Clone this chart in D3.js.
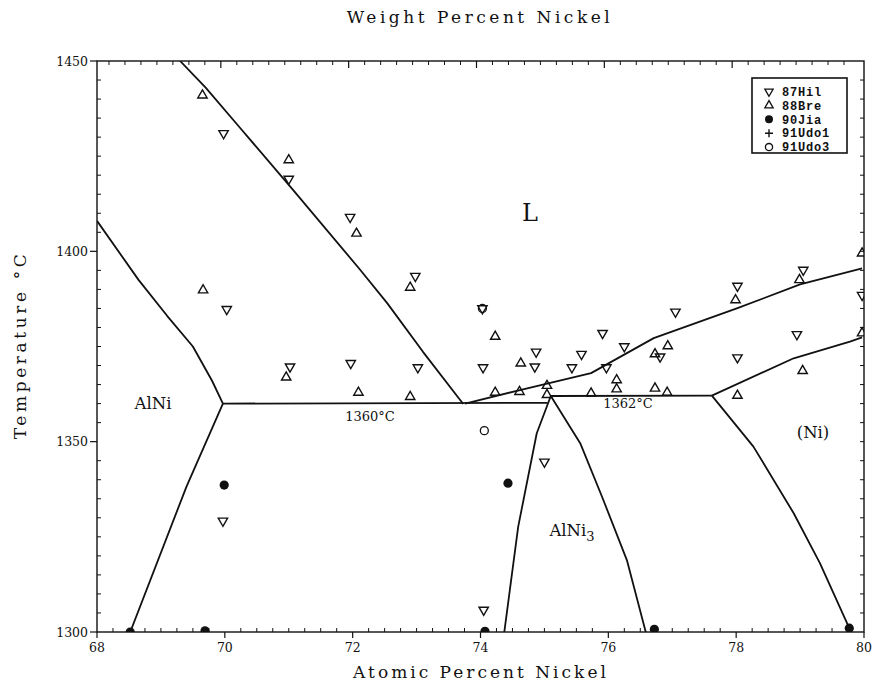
<!DOCTYPE html>
<html>
<head>
<meta charset="utf-8">
<script src="https://cdn.jsdelivr.net/npm/d3@7"></script>
<style>
  body { margin: 0; background: #fff; }
  svg text { font-family: "DejaVu Serif", "Liberation Serif", serif; fill: #111; }
</style>
</head>
<body>
<svg id="chart" width="880" height="683"></svg>
<script>
// ── Data (atomic % Ni, temperature °C) ──
const xTicks = [68, 70, 72, 74, 76, 78, 80];
const yTicks = [1300, 1350, 1400, 1450];

const hil87 = [[69.98,1431],[71.0,1419],[71.96,1409],[72.98,1393.5],[74.03,1385],[74.87,1373.6],
  [74.85,1369.7],[71.02,1369.7],[71.97,1370.6],[73.02,1369.5],[74.04,1369.5],[75.43,1369.5],
  [75.58,1373],[75.91,1378.5],[76.25,1375],[77.05,1384.1],[75.97,1369.5],[76.81,1372.3],
  [78.02,1390.9],[78.02,1372.1],[78.95,1378.2],[79.05,1395.1],[79.97,1388.5],[70.03,1384.8],
  [69.97,1329.2],[75.0,1344.7],[74.05,1305.8]];
const bre88 = [[69.65,1441],[71.0,1424],[72.06,1404.7],[72.9,1390.5],[74.23,1377.6],[74.63,1370.6],
  [70.96,1366.9],[72.09,1362.9],[72.9,1361.8],[74.23,1362.9],[74.61,1363.1],[75.04,1364.7],
  [75.04,1362.3],[76.13,1366.2],[76.13,1363.8],[75.73,1362.7],[76.73,1364],[76.92,1362.9],
  [76.73,1373],[76.93,1375.1],[77.99,1387.2],[79.04,1368.6],[78.02,1362.1],[78.99,1392.5],
  [79.97,1399.5],[79.97,1378.5],[69.66,1389.8]];
const jia90 = [[69.99,1338.6],[74.43,1339.1],[69.69,1300.3],[74.07,1300.2],[76.72,1300.7],[79.77,1301],[68.52,1300]];
const udo91a = [];
const udo91b = [[74.03,1385],[74.06,1352.9]];

// phase boundaries
const liquidusLeft = [[69.3,1450],[69.7,1443],[70.24,1432.4],[71.07,1416.1],[72.12,1395.1],[72.54,1386.4],[73.1,1373.6],[73.73,1359.9]];
const liquidusRight = [[73.76,1360],[74.6,1363.5],[75.73,1368],[76.71,1377.2],[78.01,1385],[79.0,1391.3],[79.97,1395.5]];
const alniLiquidus = [[68.0,1408],[68.65,1392.5],[69.1,1383],[69.5,1375],[69.8,1366],[69.97,1360]];
const alniSolvus = [[69.97,1360],[69.4,1338.2],[68.52,1300]];
const eutectic1360 = [[69.97,1360],[75.05,1360.2]];
const peritectic1362 = [[75.1,1362],[77.62,1362.1]];
const niSolidus = [[77.62,1362.1],[78.9,1371.9],[79.78,1376.3],[79.97,1377.4]];
const alni3Left = [[75.1,1362],[74.88,1352.2],[74.59,1327.7],[74.37,1299.7]];
const alni3Right = [[75.1,1362],[75.56,1349.6],[75.9,1335.6],[76.29,1318.9],[76.59,1299.7]];
const niSolvus = [[77.62,1362.1],[78.27,1348.7],[78.9,1331.2],[79.31,1318.1],[79.77,1301],[79.8,1299.5]];

const legendItems = ['87Hil', '88Bre', '90Jia', '91Udo1', '91Udo3'];

// ── Layout ──
const svg = d3.select('#chart');
const x = d3.scaleLinear().domain([68, 80]).range([97, 864]);
const y = d3.scaleLinear().domain([1300, 1450]).range([632, 61]);
const ink = '#111';

svg.append('defs').append('clipPath').attr('id', 'plot')
  .append('rect').attr('x', 97).attr('y', 61).attr('width', 767).attr('height', 571);

// frame
svg.append('rect')
  .attr('x', 97).attr('y', 61).attr('width', 767).attr('height', 571)
  .attr('fill', 'none').attr('stroke', ink).attr('stroke-width', 1.4);

// bottom axis: majors outward, minors inward
const xMinor = d3.range(68, 80.001, 0.25).filter(v => Math.abs(v % 2) > 0.01);
svg.append('g').selectAll('line').data(xMinor).join('line')
  .attr('x1', d => x(d)).attr('x2', d => x(d)).attr('y1', 632).attr('y2', 628)
  .attr('stroke', ink).attr('stroke-width', 1);
svg.append('g').selectAll('line').data(xTicks).join('line')
  .attr('x1', d => x(d)).attr('x2', d => x(d)).attr('y1', 632).attr('y2', 638)
  .attr('stroke', ink).attr('stroke-width', 1.2);
svg.append('g').selectAll('text').data(xTicks).join('text')
  .attr('x', d => x(d)).attr('y', 652).attr('text-anchor', 'middle')
  .attr('font-size', '12.5px').text(d => d);

// top axis (weight %): ticks only, pointing down
svg.append('g').selectAll('line').data(xMinor).join('line')
  .attr('x1', d => x(d) - 4).attr('x2', d => x(d) - 4).attr('y1', 61).attr('y2', 65)
  .attr('stroke', ink).attr('stroke-width', 1);
svg.append('g').selectAll('line').data(xTicks.slice(1, -1)).join('line')
  .attr('x1', d => x(d) - 4).attr('x2', d => x(d) - 4).attr('y1', 61).attr('y2', 68)
  .attr('stroke', ink).attr('stroke-width', 1.2);

// left axis
const yMinor = d3.range(1305, 1450, 5).filter(v => v % 50 !== 0);
svg.append('g').selectAll('line').data(yMinor).join('line')
  .attr('x1', 97).attr('x2', 101).attr('y1', d => y(d)).attr('y2', d => y(d))
  .attr('stroke', ink).attr('stroke-width', 1);
svg.append('g').selectAll('line').data(yTicks).join('line')
  .attr('x1', 90).attr('x2', 97).attr('y1', d => y(d)).attr('y2', d => y(d))
  .attr('stroke', ink).attr('stroke-width', 1.2);
svg.append('g').selectAll('text').data(yTicks).join('text')
  .attr('x', 88).attr('y', d => y(d) + 4.5).attr('text-anchor', 'end')
  .attr('font-size', '12.5px').text(d => d);

// right axis (ticks only, inward)
svg.append('g').selectAll('line').data(yMinor.concat([1350, 1400])).join('line')
  .attr('x1', 860).attr('x2', 864).attr('y1', d => y(d)).attr('y2', d => y(d))
  .attr('stroke', ink).attr('stroke-width', 1);

// axis titles
svg.append('text').attr('x', 480).attr('y', 23).attr('text-anchor', 'middle')
  .attr('font-size', '17px').attr('letter-spacing', '3.5px').text('Weight Percent Nickel');
svg.append('text').attr('x', 481).attr('y', 678).attr('text-anchor', 'middle')
  .attr('font-size', '17px').attr('letter-spacing', '3px').text('Atomic Percent Nickel');
svg.append('text').attr('transform', 'translate(26,345) rotate(-90)').attr('text-anchor', 'middle')
  .attr('font-size', '17px').attr('letter-spacing', '3.6px').text('Temperature °C');

// ── Phase boundaries ──
const line = d3.line().x(d => x(d[0])).y(d => y(d[1]));
const plot = svg.append('g').attr('clip-path', 'url(#plot)');
[liquidusLeft, liquidusRight, alniLiquidus, alniSolvus, eutectic1360, peritectic1362,
 niSolidus, alni3Left, alni3Right, niSolvus].forEach(seg => {
  plot.append('path').attr('d', line(seg))
    .attr('fill', 'none').attr('stroke', ink).attr('stroke-width', 1.8)
    .attr('stroke-linejoin', 'round');
});

// ── Markers ──
const tri = d3.symbol(d3.symbolTriangle, 38);
function drawTri(data, down) {
  plot.append('g').selectAll('path').data(data).join('path')
    .attr('d', tri)
    .attr('transform', d => 'translate(' + x(d[0]) + ',' + y(d[1]) + ')' + (down ? ' rotate(180)' : ''))
    .attr('fill', 'none').attr('stroke', ink).attr('stroke-width', 1.4);
}
drawTri(hil87, true);
drawTri(bre88, false);
plot.append('g').selectAll('circle').data(jia90).join('circle')
  .attr('cx', d => x(d[0])).attr('cy', d => y(d[1])).attr('r', 4.6).attr('fill', ink);
plot.append('g').selectAll('path').data(udo91a).join('path')
  .attr('d', d3.symbol(d3.symbolCross, 30))
  .attr('transform', d => 'translate(' + x(d[0]) + ',' + y(d[1]) + ')').attr('fill', ink);
plot.append('g').selectAll('circle').data(udo91b).join('circle')
  .attr('cx', d => x(d[0])).attr('cy', d => y(d[1])).attr('r', 4)
  .attr('fill', 'none').attr('stroke', ink).attr('stroke-width', 1.3);

// ── Region labels ──
svg.append('text').attr('x', 530).attr('y', 221).attr('text-anchor', 'middle')
  .attr('font-size', '24px').text('L');
svg.append('text').attr('x', 153).attr('y', 409).attr('text-anchor', 'middle')
  .attr('font-size', '16.5px').text('AlNi');
svg.append('text').attr('x', 370).attr('y', 421).attr('text-anchor', 'middle')
  .attr('font-size', '13px').text('1360°C');
svg.append('text').attr('x', 628).attr('y', 408).attr('text-anchor', 'middle')
  .attr('font-size', '13px').text('1362°C');
svg.append('text').attr('x', 813).attr('y', 438).attr('text-anchor', 'middle')
  .attr('font-size', '16.5px').text('(Ni)');
const alni3 = svg.append('text').attr('x', 572).attr('y', 536).attr('text-anchor', 'middle')
  .attr('font-size', '16.5px');
alni3.append('tspan').text('AlNi');
alni3.append('tspan').attr('dy', 5).attr('font-size', '13px').text('3');

// ── Legend ──
const lg = svg.append('g');
lg.append('rect').attr('x', 752).attr('y', 78).attr('width', 95).attr('height', 75)
  .attr('fill', '#fff').attr('stroke', ink).attr('stroke-width', 1.6);
legendItems.forEach((name, i) => {
  const ly = 91.5 + i * 13.9;
  const sx = 769;
  if (i === 0 || i === 1) {
    lg.append('path').attr('d', d3.symbol(d3.symbolTriangle, 30))
      .attr('transform', 'translate(' + sx + ',' + ly + ')' + (i === 0 ? ' rotate(180)' : ''))
      .attr('fill', 'none').attr('stroke', ink).attr('stroke-width', 1.3);
  } else if (i === 2) {
    lg.append('circle').attr('cx', sx).attr('cy', ly).attr('r', 4).attr('fill', ink);
  } else if (i === 3) {
    lg.append('path').attr('d', 'M' + (sx - 4) + ',' + ly + 'H' + (sx + 4) + 'M' + sx + ',' + (ly - 4) + 'V' + (ly + 4))
      .attr('stroke', ink).attr('stroke-width', 1.4);
  } else {
    lg.append('circle').attr('cx', sx).attr('cy', ly).attr('r', 3.6)
      .attr('fill', 'none').attr('stroke', ink).attr('stroke-width', 1.3);
  }
  lg.append('text').attr('x', 782).attr('y', ly + 4.2)
    .style('font-family', '"Liberation Mono", "DejaVu Sans Mono", monospace')
    .attr('font-size', '12px').attr('letter-spacing', '0.8px')
    .attr('font-weight', 'bold').text(name);
});
</script>
</body>
</html>
